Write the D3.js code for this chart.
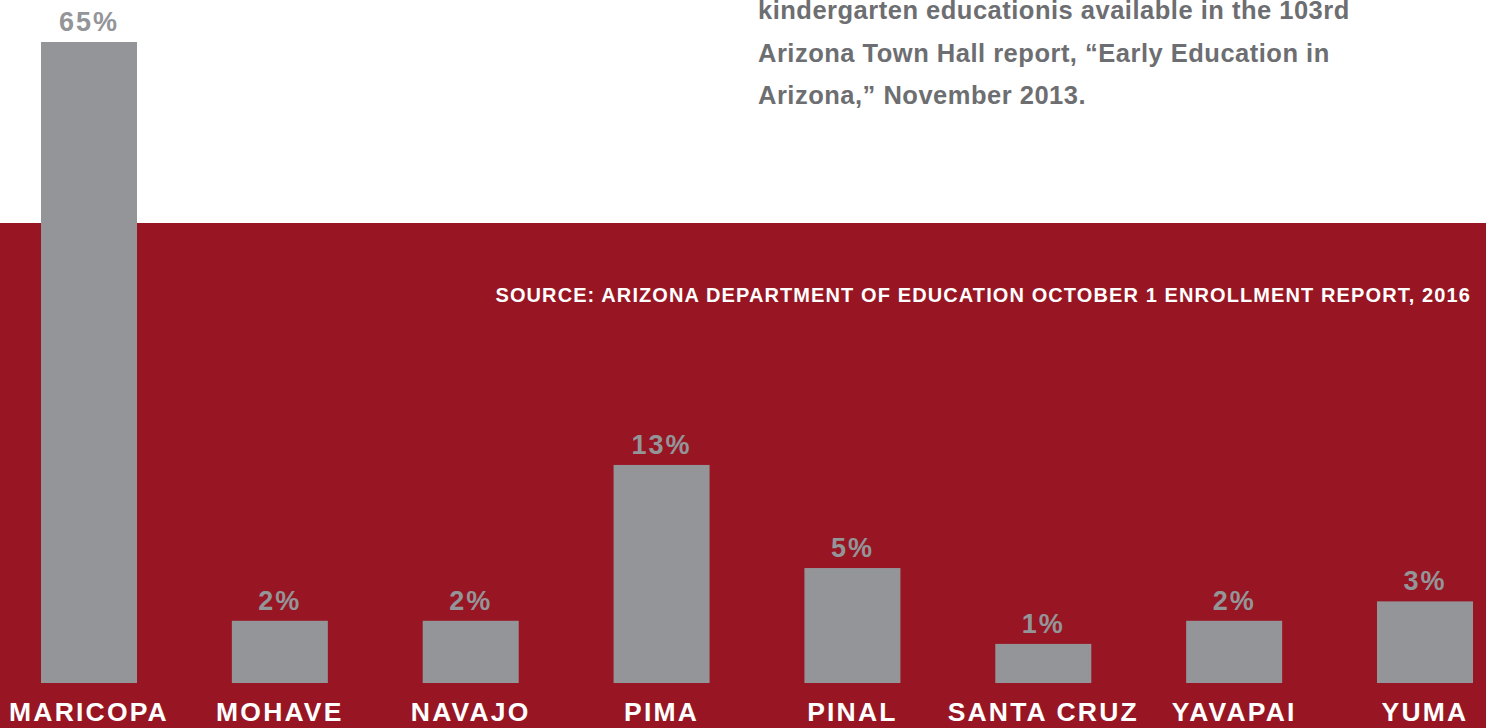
<!DOCTYPE html>
<html>
<head>
<meta charset="utf-8">
<script src="https://cdn.jsdelivr.net/npm/d3@7"></script>
<style>
	html, body { margin: 0; padding: 0; background: #fff; }
	svg { display: block; font-family: "Liberation Sans", Arial, Helvetica, sans-serif; font-weight: bold; }
</style>
</head>
<body>
<svg id="svg-county"></svg>
<script>
// County share of kindergarten enrollment
const counties = ["MARICOPA", "MOHAVE", "NAVAJO", "PIMA", "PINAL", "SANTA CRUZ", "YAVAPAI", "YUMA"];
const shares = [65, 2, 2, 13, 5, 1, 2, 3];
const shareLabels = ["65%", "2%", "2%", "13%", "5%", "1%", "2%", "3%"];

const noteLines = [
	"kindergarten educationis available in the 103rd",
	"Arizona Town Hall report, \u201cEarly Education in",
	"Arizona,\u201d November 2013."
];
const sourceText = "SOURCE: ARIZONA DEPARTMENT OF EDUCATION OCTOBER 1 ENROLLMENT REPORT, 2016";

const WIDTH = 1486;
const HEIGHT = 728;
const MARGIN = {top: 42, right: 13, bottom: 45, left: 41};
const CHART_WIDTH = WIDTH - MARGIN.left - MARGIN.right;
const CHART_HEIGHT = HEIGHT - MARGIN.top - MARGIN.bottom;
const BAND_TOP = 223; // where the red panel starts

const svg = d3.select("#svg-county")
	.attr("width", WIDTH)
	.attr("height", HEIGHT);

// Red panel behind the lower part
svg.append("rect")
	.attr("x", 0)
	.attr("y", BAND_TOP)
	.attr("width", WIDTH)
	.attr("height", HEIGHT - BAND_TOP)
	.attr("fill", "#981623");

// Note text (top right), first line is cut by the top edge like in the source
svg.append("g")
	.selectAll("text")
	.data(noteLines)
	.enter()
	.append("text")
	.attr("x", 758)
	.attr("y", (d, i) => 19 + i * 42.5)
	.attr("fill", "#6d6e71")
	.style("font-size", "25.5px")
	.style("letter-spacing", "0.5px")
	.text(d => d);

// Source line
svg.append("text")
	.attr("x", 1471)
	.attr("y", 302)
	.attr("text-anchor", "end")
	.attr("fill", "#fff")
	.style("font-size", "20px")
	.style("letter-spacing", "1.1px")
	.text(sourceText);

// Scales - bar heights in the original are not linear, a power scale fits them
const xScale = d3.scaleBand().domain(counties).range([0, CHART_WIDTH]).paddingInner(0.497).paddingOuter(0);
const yScale = d3.scalePow().exponent(0.67).domain([0, d3.max(shares)]).range([CHART_HEIGHT, 0]);

const chart = svg.append("g")
	.attr("transform", `translate(${MARGIN.left}, ${MARGIN.top})`);

const data = counties.map((c, i) => ({county: c, share: shares[i], label: shareLabels[i]}));

// Bars
chart.selectAll(".bar")
	.data(data)
	.enter()
	.append("rect")
	.classed("bar", true)
	.attr("x", d => xScale(d.county))
	.attr("y", d => yScale(d.share))
	.attr("width", xScale.bandwidth())
	.attr("height", d => CHART_HEIGHT - yScale(d.share))
	.attr("fill", "#939598");

// Value labels
chart.selectAll(".value")
	.data(data)
	.enter()
	.append("text")
	.classed("value", true)
	.attr("x", d => xScale(d.county) + xScale.bandwidth() / 2)
	.attr("y", d => yScale(d.share) - 11)
	.attr("text-anchor", "middle")
	.attr("fill", "#939598")
	.style("font-size", "27px")
	.style("letter-spacing", "2px")
	.text(d => d.label);

// County names
chart.selectAll(".county")
	.data(data)
	.enter()
	.append("text")
	.classed("county", true)
	.attr("x", d => xScale(d.county) + xScale.bandwidth() / 2)
	.attr("y", CHART_HEIGHT + 38)
	.attr("text-anchor", "middle")
	.attr("fill", "#fff")
	.style("font-size", "26.5px")
	.style("letter-spacing", "2.2px")
	.text(d => d.county);
</script>
</body>
</html>
